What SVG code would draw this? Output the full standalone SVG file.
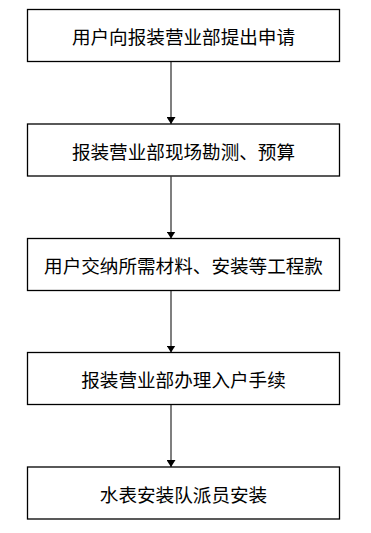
<svg xmlns="http://www.w3.org/2000/svg" width="371" height="533" viewBox="0 0 371 533">
<style>
.box{fill:#fff;stroke:#000;stroke-width:1.3}
.t{font-family:"Noto Sans CJK SC","Microsoft YaHei",sans-serif;font-size:18.6px;fill:#000;text-anchor:middle;dominant-baseline:central}
.c{stroke:#555;stroke-width:1.5;fill:none;marker-end:url(#ah)}
</style>
<defs>
<marker id="ah" markerUnits="userSpaceOnUse" markerWidth="8" markerHeight="9" refX="7" refY="4.5" orient="auto">
<path d="M0,0 L7,4.5 L0,9 z" fill="#000"/>
</marker>
</defs>
<rect width="371" height="533" fill="#fff"/>
<g id="connectors">
<line class="c" x1="171" y1="62" x2="171" y2="124"/>
<line class="c" x1="171" y1="176.5" x2="171" y2="238.5"/>
<line class="c" x1="171" y1="290.5" x2="171" y2="352.5"/>
<line class="c" x1="171" y1="404.5" x2="171" y2="467"/>
</g>
<g id="n1"><rect class="box" x="27.5" y="9.5" width="312" height="52"/><text class="t" x="183.5" y="35.5">用户向报装营业部提出申请</text></g>
<g id="n2"><rect class="box" x="27.5" y="124" width="312" height="52"/><text class="t" x="183.5" y="150">报装营业部现场勘测、预算</text></g>
<g id="n3"><rect class="box" x="27.5" y="238.5" width="312" height="52"/><text class="t" x="183.5" y="264.5">用户交纳所需材料、安装等工程款</text></g>
<g id="n4"><rect class="box" x="27.5" y="352.5" width="312" height="52"/><text class="t" x="183.5" y="378.5">报装营业部办理入户手续</text></g>
<g id="n5"><rect class="box" x="27.5" y="467" width="312" height="52"/><text class="t" x="183.5" y="493">水表安装队派员安装</text></g>
</svg>
